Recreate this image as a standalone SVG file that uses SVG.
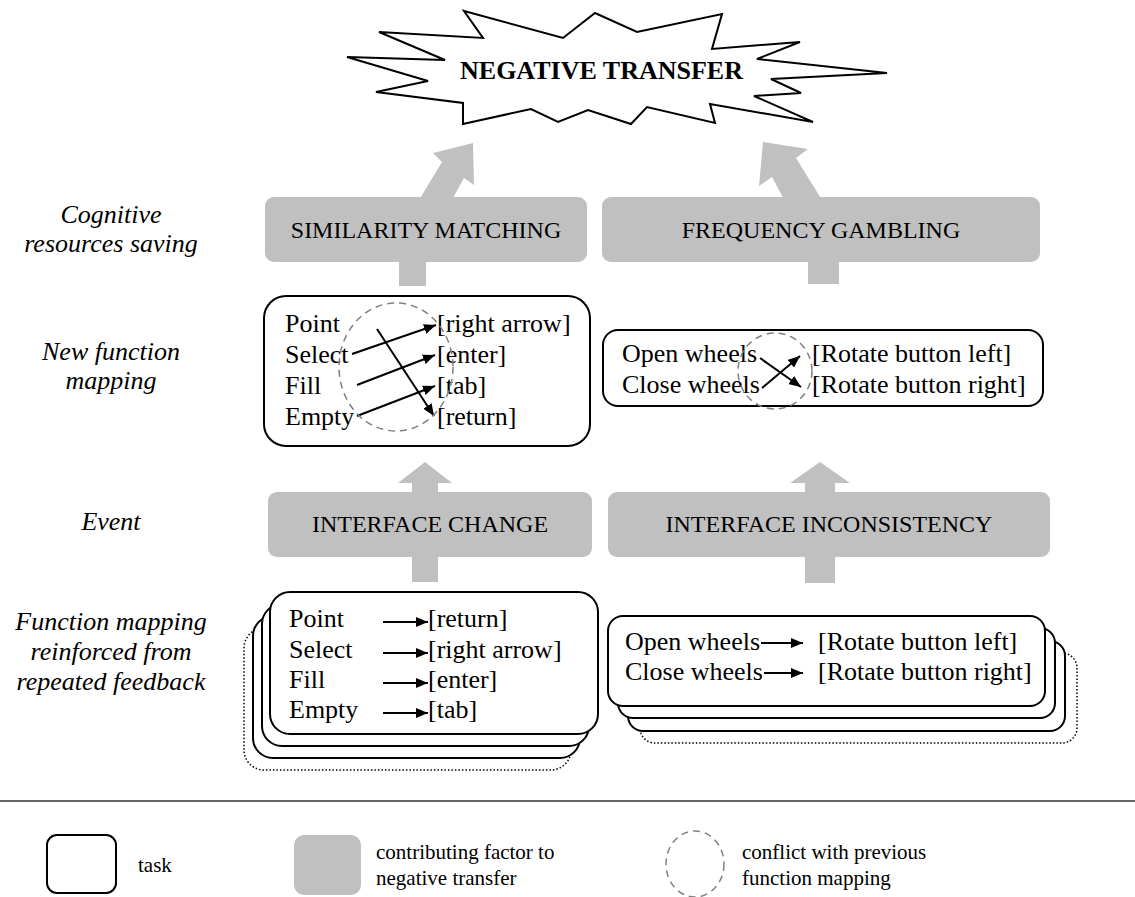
<svg xmlns="http://www.w3.org/2000/svg" width="1135" height="897" viewBox="0 0 1135 897">
<defs>
<marker id="ah" viewBox="0 0 12 10" refX="12" refY="5" markerWidth="12" markerHeight="10" markerUnits="userSpaceOnUse" orient="auto">
<path d="M0,0 L12,5 L0,10 Z" fill="#000"/>
</marker>
<style>
text{font-family:"Liberation Serif","Times New Roman",serif;fill:#000}
.lbl{font-size:26px;font-style:italic;text-anchor:middle}
.gt{font-size:24px;text-anchor:middle}
.tt{font-size:26px}
.lg{font-size:21px}
.gray{fill:#c0c0c0;stroke:none}
.task{fill:#fff;stroke:#000;stroke-width:2}
.dot{fill:#fff;stroke:#000;stroke-width:1.5;stroke-dasharray:1.5 2}
.conf{fill:none;stroke:#808080;stroke-width:1.5;stroke-dasharray:7 5}
.ar{stroke:#000;stroke-width:2;fill:none;marker-end:url(#ah)}
</style>
</defs>
<rect width="1135" height="897" fill="#fff"/>

<g id="labels">
<text class="lbl" x="111" y="223">Cognitive</text>
<text class="lbl" x="111" y="252">resources saving</text>
<text class="lbl" x="111" y="360">New function</text>
<text class="lbl" x="111" y="389">mapping</text>
<text class="lbl" x="111" y="530">Event</text>
<text class="lbl" x="111" y="630">Function mapping</text>
<text class="lbl" x="111" y="660">reinforced from</text>
<text class="lbl" x="111" y="690">repeated feedback</text>
</g>

<g id="connectors">
<polygon class="gray" points="416,205 442,162 433,153 473,143 474,185 464,178 449,205"/>
<polygon class="gray" points="787,205 772,177 759,186 763,142 808,149 796,158 825,205"/>
<rect class="gray" x="399" y="255" width="27" height="31"/>
<rect class="gray" x="808" y="255" width="31" height="29"/>
<polygon class="gray" points="412,582 412,483 398,483 425,462 452,483 438,483 438,582"/>
<polygon class="gray" points="805,583 805,483 790,483 820,462 850,483 835,483 835,583"/>
</g>

<g id="negative-transfer">
<polygon fill="#fff" stroke="#000" stroke-width="2" stroke-linejoin="miter" points="464,11 483,38 379,32 445,60 347,57 428,81 376,92 463,103 463,124 531,109 558,122 588,110 631,124 647,107 715,123 710,104 813,122 754,96 801,93 771,79 887,73 757,59 800,42 712,49 722,14 637,32 595,13 563,38"/>
<text x="601.5" y="79" font-size="26" font-weight="bold" text-anchor="middle">NEGATIVE TRANSFER</text>
</g>

<g id="similarity-matching">
<rect class="gray" x="265" y="197" width="322" height="65" rx="9"/>
<text class="gt" x="426" y="238">SIMILARITY MATCHING</text>
</g>

<g id="frequency-gambling">
<rect class="gray" x="602" y="197" width="438" height="65" rx="9"/>
<text class="gt" x="821" y="238">FREQUENCY GAMBLING</text>
</g>

<g id="new-mapping-left">
<rect class="task" x="264" y="296" width="326" height="150" rx="22"/>
<text class="tt" x="285" y="332">Point</text>
<text class="tt" x="285" y="363">Select</text>
<text class="tt" x="285" y="394">Fill</text>
<text class="tt" x="285" y="425">Empty</text>
<text class="tt" x="437" y="332">[right arrow]</text>
<text class="tt" x="437" y="363">[enter]</text>
<text class="tt" x="437" y="394">[tab]</text>
<text class="tt" x="437" y="425">[return]</text>
<line class="ar" x1="352" y1="354" x2="436" y2="325"/>
<line class="ar" x1="357" y1="385" x2="435" y2="355"/>
<line class="ar" x1="357" y1="416" x2="435" y2="386"/>
<line class="ar" x1="377" y1="329" x2="434" y2="416"/>
<ellipse class="conf" cx="396" cy="367" rx="57" ry="64"/>
</g>

<g id="new-mapping-right">
<rect class="task" x="603" y="330" width="440" height="76" rx="15"/>
<text class="tt" x="622" y="362">Open wheels</text>
<text class="tt" x="622" y="393">Close wheels</text>
<text class="tt" x="812" y="362">[Rotate button left]</text>
<text class="tt" x="812" y="393">[Rotate button right]</text>
<line class="ar" x1="760" y1="358" x2="801" y2="387"/>
<line class="ar" x1="762" y1="388" x2="800" y2="356"/>
<ellipse class="conf" cx="775" cy="371" rx="37" ry="38"/>
</g>

<g id="interface-change">
<rect class="gray" x="268" y="492" width="324" height="65" rx="9"/>
<text class="gt" x="430" y="532">INTERFACE CHANGE</text>
</g>

<g id="interface-inconsistency">
<rect class="gray" x="608" y="492" width="442" height="65" rx="9"/>
<text class="gt" x="829" y="532">INTERFACE INCONSISTENCY</text>
</g>

<g id="reinforced-left">
<rect class="dot" x="244" y="628" width="327" height="142" rx="20"/>
<rect class="task" x="253" y="616" width="327" height="142" rx="20"/>
<rect class="task" x="262" y="604" width="327" height="142" rx="20"/>
<rect class="task" x="270" y="592" width="328" height="142" rx="20"/>
<text class="tt" x="289" y="627">Point</text>
<text class="tt" x="289" y="658">Select</text>
<text class="tt" x="289" y="688">Fill</text>
<text class="tt" x="289" y="718">Empty</text>
<text class="tt" x="428" y="627">[return]</text>
<text class="tt" x="428" y="658">[right arrow]</text>
<text class="tt" x="428" y="688">[enter]</text>
<text class="tt" x="428" y="718">[tab]</text>
<line class="ar" x1="383" y1="622" x2="428" y2="622"/>
<line class="ar" x1="383" y1="653" x2="428" y2="653"/>
<line class="ar" x1="383" y1="683" x2="428" y2="683"/>
<line class="ar" x1="383" y1="713" x2="428" y2="713"/>
</g>

<g id="reinforced-right">
<rect class="dot" x="640" y="653" width="437" height="90" rx="15"/>
<rect class="task" x="628" y="641" width="437" height="90" rx="15"/>
<rect class="task" x="618" y="628" width="437" height="90" rx="15"/>
<rect class="task" x="608" y="616" width="437" height="90" rx="15"/>
<text class="tt" x="625" y="650">Open wheels</text>
<text class="tt" x="625" y="680">Close wheels</text>
<text class="tt" x="818" y="650">[Rotate button left]</text>
<text class="tt" x="818" y="680">[Rotate button right]</text>
<line class="ar" x1="761" y1="643" x2="803" y2="643"/>
<line class="ar" x1="764" y1="673" x2="803" y2="673"/>
</g>

<g id="legend">
<line x1="0" y1="801" x2="1135" y2="801" stroke="#333" stroke-width="1.5"/>
<rect class="task" x="47" y="835" width="69" height="58" rx="10"/>
<text class="lg" x="138" y="872">task</text>
<rect class="gray" x="294" y="835" width="67" height="60" rx="10"/>
<text class="lg" x="376" y="859">contributing factor to</text>
<text class="lg" x="376" y="885">negative transfer</text>
<ellipse class="conf" cx="695" cy="864" rx="29" ry="33"/>
<text class="lg" x="742" y="859">conflict with previous</text>
<text class="lg" x="742" y="885">function mapping</text>
</g>
</svg>
